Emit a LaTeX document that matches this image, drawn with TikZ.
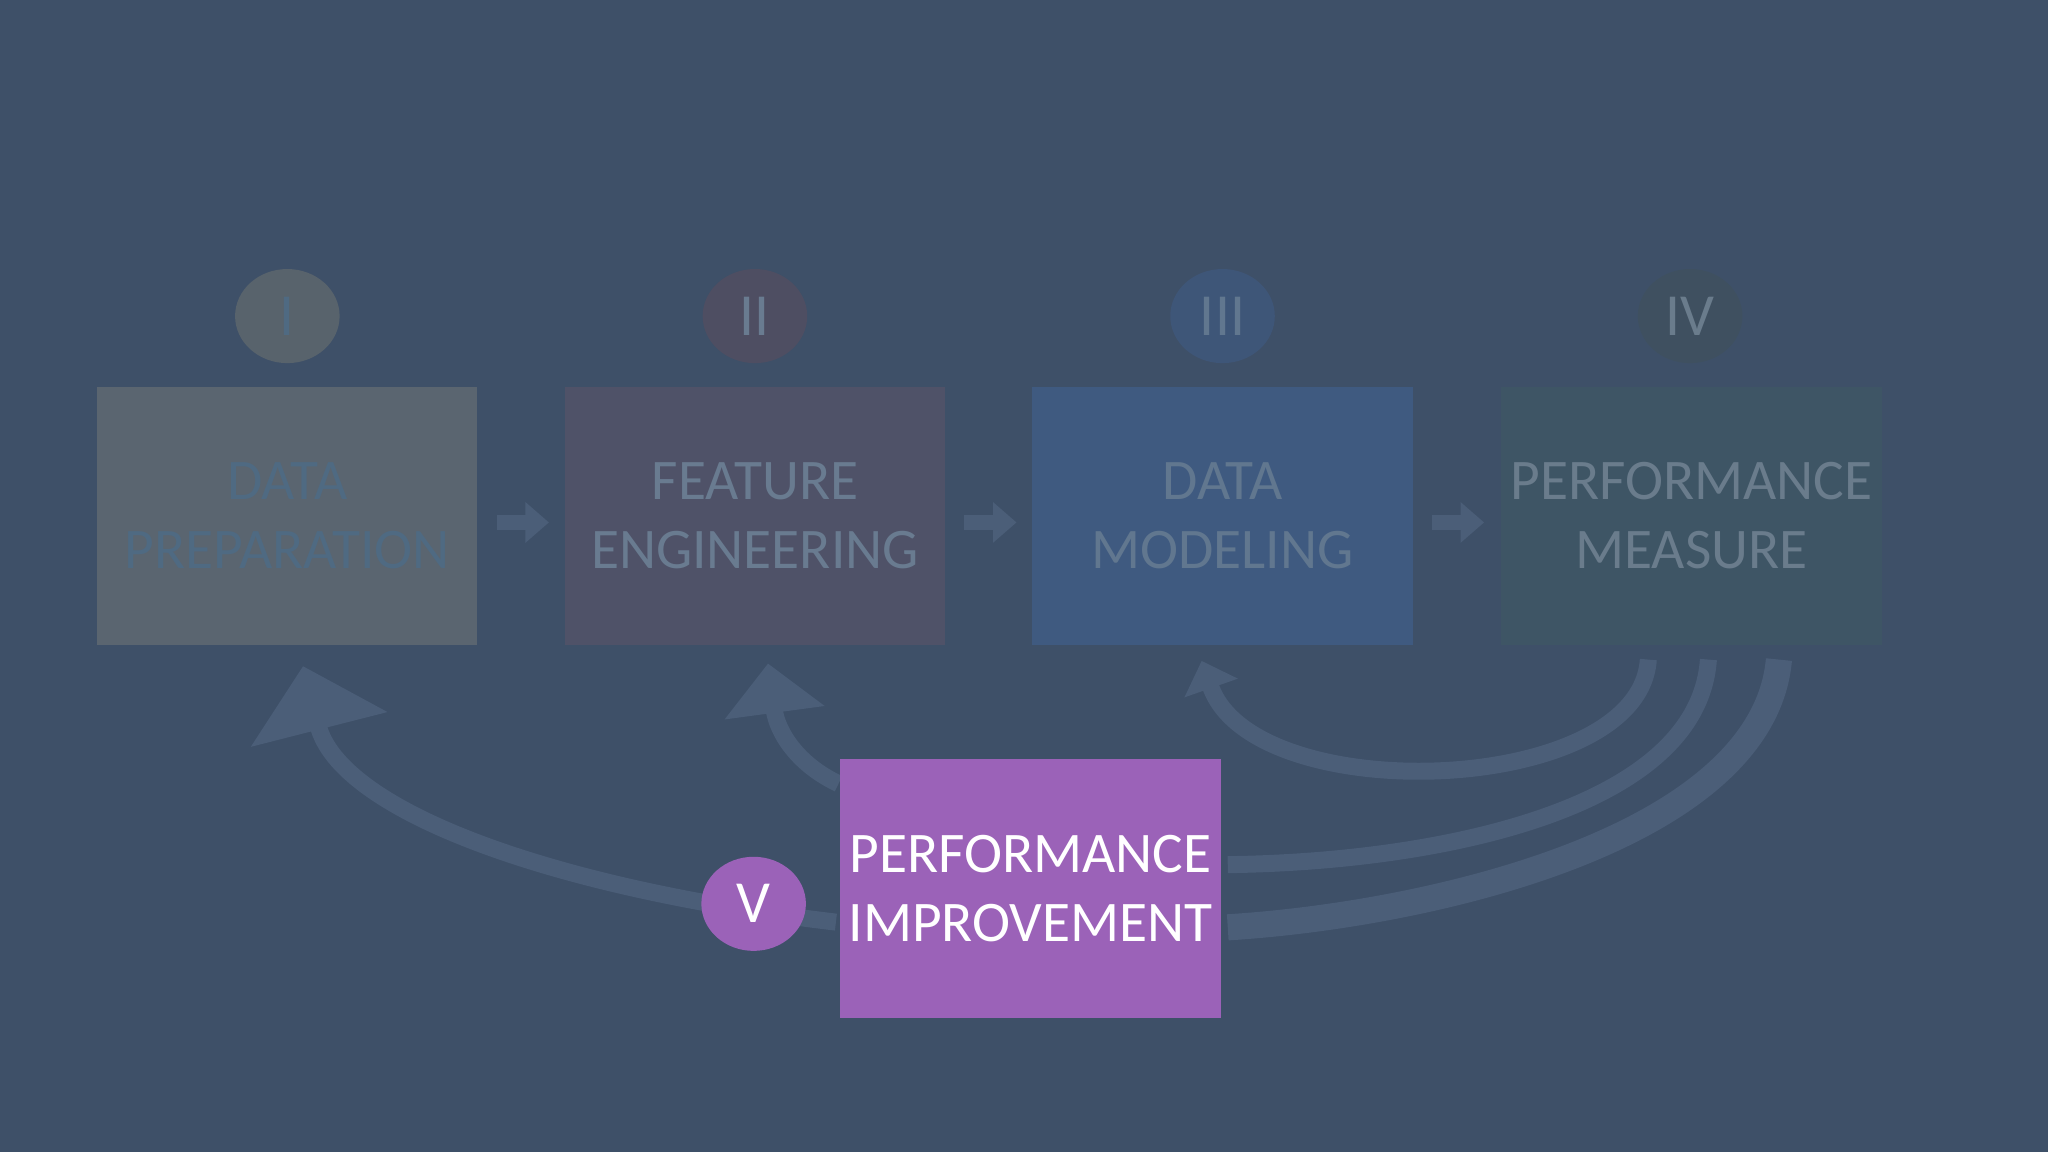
\documentclass[tikz,border=0pt]{standalone}
\usepackage{fontspec}
\setmainfont{Carlito}
\usetikzlibrary{arrows.meta,shapes.geometric}
\definecolor{bg}{HTML}{3E5068}
\definecolor{arr}{HTML}{4B5E78}
\definecolor{vio}{HTML}{9B62B8}
\definecolor{f1}{HTML}{5A6570}\definecolor{t1}{HTML}{4F6A82}
\definecolor{f2}{HTML}{4F5268}\definecolor{t2}{HTML}{697B90}
\definecolor{f3}{HTML}{3F5A80}\definecolor{t3}{HTML}{61778F}
\definecolor{f4}{HTML}{3E5565}\definecolor{t4}{HTML}{6A7C8C}
\definecolor{g1}{HTML}{58636C}\definecolor{g2}{HTML}{4E4E62}
\definecolor{g3}{HTML}{3E5678}\definecolor{g4}{HTML}{3F5060}
\begin{document}
\begin{tikzpicture}[x=0.01cm,y=-0.01cm,
  box/.style={minimum width=2.91cm,minimum height=1.98cm,align=center,inner sep=0pt,font=\fontsize{12.5}{15}\selectfont},
  num/.style={ellipse,minimum width=0.8cm,minimum height=0.72cm,inner sep=0pt,font=\fontsize{13}{15}\selectfont},
  small/.style={arr,line width=0.12cm,-{Triangle[width=0.3cm,length=0.18cm]}},
  curve/.style={arr,line width=0.13cm,line cap=butt}]
\fill[bg] (0,0) rectangle (1568,882);
\useasboundingbox (0,0) rectangle (1568,882);
% curved arrows
\coordinate (a1s) at (640,706);
\coordinate (a1e) at (232,510);
\draw[curve,-{Triangle[width=1.05cm,length=0.5cm]}] (a1s) .. controls (420,680) and (260,620) .. (a1e);
\coordinate (a2s) at (642,600);
\coordinate (a2e) at (588,508);
\draw[curve,-{Triangle[width=0.75cm,length=0.38cm]}] (a2s) .. controls (610,585) and (595,560) .. (a2e);
\coordinate (a3s) at (1262,505);
\coordinate (a3e) at (920,506);
\draw[curve,-{Triangle[width=0.42cm,length=0.22cm]}] (a3s) .. controls (1255,610) and (960,620) .. (a3e);
\coordinate (a4s) at (1308,505);
\coordinate (a4e) at (940,662);
\draw[curve] (a4s) .. controls (1300,620) and (1100,660) .. (a4e);
\coordinate (a5s) at (1362,505);
\coordinate (a5e) at (940,710);
\draw[curve,line width=0.2cm] (a5s) .. controls (1350,640) and (1100,700) .. (a5e);
% boxes
\node[box,fill=f1,text=t1] (b1) at (220,395) {DATA\\PREPARATION};
\node[box,fill=f2,text=t2] (b2) at (578,395) {FEATURE\\ENGINEERING};
\node[box,fill=f3,text=t3] (b3) at (936,395) {DATA\\MODELING};
\node[box,fill=f4,text=t4] (b4) at (1295,395) {PERFORMANCE\\MEASURE};
\node[num,fill=g1,text=t1] (c1) at (220,242) {I};
\node[num,fill=g2,text=t2] (c2) at (578,242) {II};
\node[num,fill=g3,text=t3] (c3) at (936,242) {III};
\node[num,fill=g4,text=t4] (c4) at (1294,242) {IV};
\draw[small] (b1.east) ++(14,5) -- ++(40,0);
\draw[small] (b2.east) ++(14,5) -- ++(40,0);
\draw[small] (b3.east) ++(14,5) -- ++(40,0);
\node[box,fill=vio,text=white] (b5) at (789,680) {PERFORMANCE\\IMPROVEMENT};
\node[num,fill=vio,text=white] (c5) at (577,692) {V};
\end{tikzpicture}
\end{document}
